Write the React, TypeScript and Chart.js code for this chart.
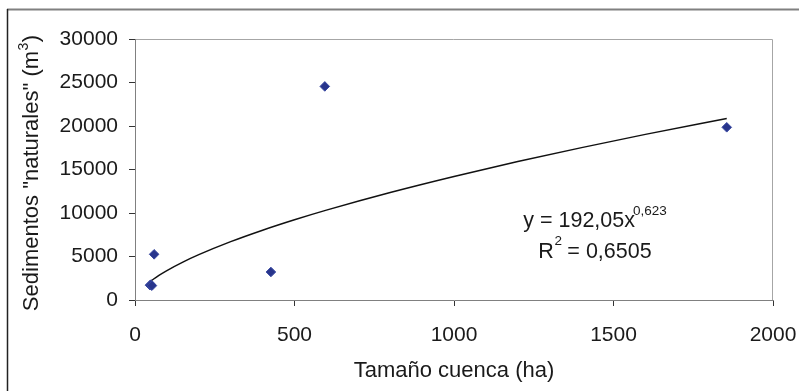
import React, { useEffect, useRef } from "react";
import { Chart, registerables } from "chart.js";

Chart.register(...registerables);

// Observed data points (Tamaño cuenca (ha), Sedimentos naturales (m3))
const basinSizeHa = [47, 50, 53, 60, 426, 595, 1855];
const sedimentM3 = [1700, 1780, 1650, 5250, 3220, 24550, 19850];

// Power trendline y = 192,05 x^0,623
const trendX = [47, 75, 100, 150, 200, 300, 400, 500, 600, 800, 1000, 1200, 1400, 1600, 1855];
const trendY = [2114, 2829, 3384, 4356, 5212, 6709, 8026, 9224, 10333, 12359, 14204, 15913, 17515, 19038, 20872];

const xTicks = [0, 500, 1000, 1500, 2000];
const yTicks = [0, 5000, 10000, 15000, 20000, 25000, 30000];

const yTitleMain = 'Sedimentos "naturales" (m';
const yTitleSup = "3";
const yTitleEnd = ")";

const eqMain = "y = 192,05x";
const eqExp = "0,623";
const r2Prefix = "R";
const r2Exp = "2";
const r2Rest = " = 0,6505";

const FONT = '"Liberation Sans", Arial, sans-serif';

const framePlugin = {
  id: "frame",
  beforeDraw(chart: any) {
    const { ctx, chartArea, width, height } = chart;
    ctx.save();
    ctx.fillStyle = "#ffffff";
    ctx.fillRect(0, 0, width, height);
    // outer chart frame (top & left visible)
    ctx.strokeStyle = "#808080";
    ctx.lineWidth = 2;
    ctx.beginPath();
    ctx.moveTo(7, 9.5);
    ctx.lineTo(width, 9.5);
    ctx.stroke();
    ctx.strokeStyle = "#222222";
    ctx.lineWidth = 1.5;
    ctx.beginPath();
    ctx.moveTo(7.5, 9);
    ctx.lineTo(7.5, height);
    ctx.stroke();
    // plot area border
    ctx.strokeStyle = "#a6a6a6";
    ctx.lineWidth = 1;
    ctx.beginPath();
    ctx.moveTo(chartArea.left, chartArea.top + 0.5);
    ctx.lineTo(chartArea.right - 0.5, chartArea.top + 0.5);
    ctx.lineTo(chartArea.right - 0.5, chartArea.bottom);
    ctx.stroke();
    ctx.restore();
  },
};

const yTitlePlugin = {
  id: "yTitle",
  afterDraw(chart: any) {
    const { ctx, chartArea } = chart;
    const big = `22px ${FONT}`;
    const small = `14px ${FONT}`;
    ctx.save();
    ctx.fillStyle = "#1a1a1a";
    ctx.textBaseline = "alphabetic";
    ctx.textAlign = "left";
    ctx.font = big;
    const w1 = ctx.measureText(yTitleMain).width;
    const w3 = ctx.measureText(yTitleEnd).width;
    ctx.font = small;
    const w2 = ctx.measureText(yTitleSup).width;
    const total = w1 + w2 + w3;
    const cy = (chartArea.top + chartArea.bottom) / 2 + 4;
    ctx.translate(37.5, cy);
    ctx.rotate(-Math.PI / 2);
    const x0 = -total / 2;
    ctx.font = big;
    ctx.fillText(yTitleMain, x0, 0);
    ctx.font = small;
    ctx.fillText(yTitleSup, x0 + w1 + 0.5, -10);
    ctx.font = big;
    ctx.fillText(yTitleEnd, x0 + w1 + w2 + 1, 0);
    ctx.restore();
  },
};

const equationPlugin = {
  id: "equation",
  afterDatasetsDraw(chart: any) {
    const { ctx, scales } = chart;
    const cx = scales.x.getPixelForValue(1442);
    const y1 = scales.y.getPixelForValue(8390);
    const y2 = y1 + 31;
    ctx.save();
    ctx.fillStyle = "#1a1a1a";
    ctx.textBaseline = "alphabetic";
    ctx.textAlign = "left";
    const big = `21.5px ${FONT}`;
    const small = `13.5px ${FONT}`;
    // line 1
    ctx.font = big;
    const wMain = ctx.measureText(eqMain).width;
    ctx.font = small;
    const wExp = ctx.measureText(eqExp).width;
    let x = cx - (wMain + wExp - 2) / 2;
    ctx.font = big;
    ctx.fillText(eqMain, x, y1);
    ctx.font = small;
    ctx.fillText(eqExp, x + wMain - 2, y1 - 12);
    // line 2
    ctx.font = big;
    const wR = ctx.measureText(r2Prefix).width;
    const wRest = ctx.measureText(r2Rest).width;
    ctx.font = small;
    const w2 = ctx.measureText(r2Exp).width;
    x = cx - (wR + w2 + wRest) / 2;
    ctx.font = big;
    ctx.fillText(r2Prefix, x, y2);
    ctx.font = small;
    ctx.fillText(r2Exp, x + wR + 0.5, y2 - 13);
    ctx.font = big;
    ctx.fillText(r2Rest, x + wR + w2, y2);
    ctx.restore();
  },
};

export default function App() {
  const ref = useRef<HTMLCanvasElement | null>(null);
  useEffect(() => {
    if (!ref.current) return;
    const chart = new Chart(ref.current, {
      type: "scatter",
      data: {
        datasets: [
          {
            type: "line",
            label: "trend",
            data: trendX.map((x, i) => ({ x, y: trendY[i] })),
            borderColor: "#111111",
            borderWidth: 1.5,
            pointRadius: 0,
            fill: false,
            cubicInterpolationMode: "monotone",
            order: 2,
          } as any,
          {
            label: "Sedimentos",
            data: basinSizeHa.map((x, i) => ({ x, y: sedimentM3[i] })),
            pointStyle: "rectRot",
            pointRadius: 4.8,
            backgroundColor: "#28358C",
            borderColor: "#3A4AA3",
            borderWidth: 1,
            order: 1,
          },
        ],
      },
      options: {
        responsive: false,
        animation: false,
        layout: { padding: { left: 0, top: 39, right: 26, bottom: 0 } },
        plugins: {
          legend: { display: false },
          tooltip: { enabled: false },
        },
        scales: {
          x: {
            type: "linear",
            min: 0,
            max: 2000,
            afterFit(s: any) {
              s.height = 91;
              s.paddingLeft = 0;
              s.paddingRight = 0;
            },
            afterBuildTicks(s: any) {
              s.ticks = xTicks.map((v) => ({ value: v }));
            },
            grid: {
              drawOnChartArea: false,
              drawTicks: true,
              tickLength: 6,
              tickColor: "#333333",
            },
            border: { display: true, color: "#808080", width: 1 },
            ticks: {
              color: "#1a1a1a",
              font: { family: FONT, size: 21 },
              padding: 17,
              maxRotation: 0,
              callback: (v: any) => String(v),
            },
            title: {
              display: true,
              text: "Tamaño cuenca (ha)",
              color: "#1a1a1a",
              font: { family: FONT, size: 22 },
              padding: { top: 0, bottom: 7 },
            },
          },
          y: {
            type: "linear",
            min: 0,
            max: 30000,
            afterFit(s: any) {
              s.width = 135;
              s.paddingTop = 0;
              s.paddingBottom = 0;
            },
            afterBuildTicks(s: any) {
              s.ticks = yTicks.map((v) => ({ value: v }));
            },
            grid: {
              drawOnChartArea: false,
              drawTicks: true,
              tickLength: 6,
              tickColor: "#333333",
            },
            border: { display: true, color: "#808080", width: 1 },
            ticks: {
              color: "#1a1a1a",
              font: { family: FONT, size: 21 },
              padding: 11,
              callback: (v: any) => String(v),
            },
            title: { display: false },
          },
        },
      },
      plugins: [framePlugin, equationPlugin, yTitlePlugin],
    });
    return () => chart.destroy();
  }, []);
  return (
    <div style={{ position: "absolute", left: 0, top: 0, width: 799, height: 391 }}>
      <canvas ref={ref} width={799} height={391} />
    </div>
  );
}
